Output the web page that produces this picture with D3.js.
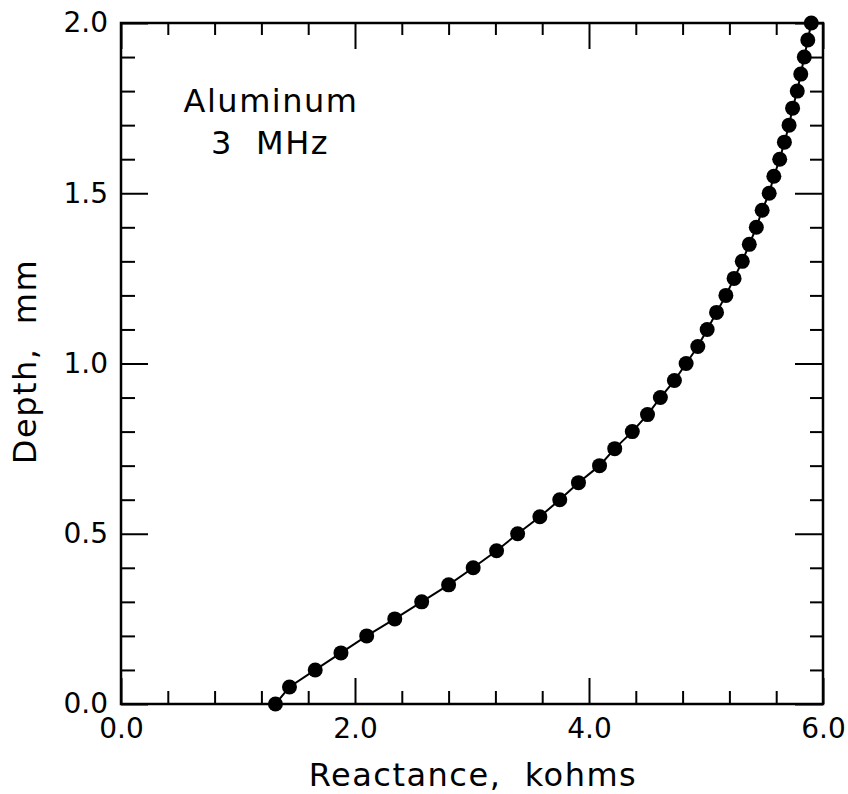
<!DOCTYPE html>
<html>
<head>
<meta charset="utf-8">
<script src="https://cdnjs.cloudflare.com/ajax/libs/d3/7.8.5/d3.min.js"></script>
<style>
  body { margin: 0; background: #fff; }
  svg { display: block; }
  text { font-family: "DejaVu Sans", sans-serif; fill: #000; }
</style>
</head>
<body>
<svg></svg>
<script>
var width = 848,
    height = 794

// depth, mm
var depth = [0.00, 0.05, 0.10, 0.15, 0.20, 0.25, 0.30, 0.35, 0.40, 0.45,
             0.50, 0.55, 0.60, 0.65, 0.70, 0.75, 0.80, 0.85, 0.90, 0.95,
             1.00, 1.05, 1.10, 1.15, 1.20, 1.25, 1.30, 1.35, 1.40, 1.45,
             1.50, 1.55, 1.60, 1.65, 1.70, 1.75, 1.80, 1.85, 1.90, 1.95, 2.00]

// reactance, kohms
var reactance = [1.32, 1.44, 1.66, 1.88, 2.10, 2.34, 2.57, 2.80, 3.01, 3.21,
                 3.39, 3.58, 3.75, 3.91, 4.09, 4.22, 4.37, 4.50, 4.61, 4.73,
                 4.83, 4.93, 5.01, 5.09, 5.17, 5.24, 5.31, 5.37, 5.43, 5.48,
                 5.54, 5.58, 5.63, 5.67, 5.71, 5.74, 5.78, 5.81, 5.84, 5.87, 5.90]

var xMajor = [0, 2, 4, 6]
var xMinor = [0.4, 0.8, 1.2, 1.6, 2.4, 2.8, 3.2, 3.6, 4.4, 4.8, 5.2, 5.6]
var yMajor = [0, 0.5, 1.0, 1.5, 2.0]
var yMinor = [0.1, 0.2, 0.3, 0.4, 0.6, 0.7, 0.8, 0.9, 1.1, 1.2, 1.3, 1.4, 1.6, 1.7, 1.8, 1.9]

var margin = {top: 23, right: 25, bottom: 90, left: 121}

var svg = d3.select("svg").attr("width", width).attr("height", height)

var x = d3.scaleLinear().domain([0, 6]).range([margin.left, width - margin.right])
var y = d3.scaleLinear().domain([0, 2]).range([height - margin.bottom, margin.top])

var data = depth.map(function(d, i) {
  return {depth: d, reactance: reactance[i]}
})

function styleAxis(g) {
  g.select(".domain").remove()
  g.selectAll("line").attr("stroke", "#000").attr("stroke-width", 2)
  g.selectAll("text").attr("font-size", 28).attr("font-family", "DejaVu Sans, sans-serif")
}

var fmt = d3.format(".1f")

// bottom
svg.append("g").attr("transform", "translate(0," + y(0) + ")")
  .call(d3.axisBottom(x).tickValues(xMajor).tickSize(-26).tickPadding(14).tickFormat(fmt))
  .call(styleAxis)
svg.append("g").attr("transform", "translate(0," + y(0) + ")")
  .call(d3.axisBottom(x).tickValues(xMinor).tickSize(-13).tickFormat(""))
  .call(styleAxis)
// top
svg.append("g").attr("transform", "translate(0," + y(2) + ")")
  .call(d3.axisTop(x).tickValues(xMajor).tickSize(-26).tickFormat(""))
  .call(styleAxis)
svg.append("g").attr("transform", "translate(0," + y(2) + ")")
  .call(d3.axisTop(x).tickValues(xMinor).tickSize(-12).tickFormat(""))
  .call(styleAxis)
// left
svg.append("g").attr("transform", "translate(" + x(0) + ",0)")
  .call(d3.axisLeft(y).tickValues(yMajor).tickSize(-27).tickPadding(13).tickFormat(fmt))
  .call(styleAxis)
svg.append("g").attr("transform", "translate(" + x(0) + ",0)")
  .call(d3.axisLeft(y).tickValues(yMinor).tickSize(-14).tickFormat(""))
  .call(styleAxis)
// right
svg.append("g").attr("transform", "translate(" + x(6) + ",0)")
  .call(d3.axisRight(y).tickValues(yMajor).tickSize(-28).tickFormat(""))
  .call(styleAxis)
svg.append("g").attr("transform", "translate(" + x(6) + ",0)")
  .call(d3.axisRight(y).tickValues(yMinor).tickSize(-13).tickFormat(""))
  .call(styleAxis)

// frame
svg.append("rect")
  .attr("x", x(0)).attr("y", y(2))
  .attr("width", x(6) - x(0)).attr("height", y(0) - y(2))
  .attr("fill", "none").attr("stroke", "#000").attr("stroke-width", 2.5)

var line = d3.line()
  .x(function(d) { return x(d.reactance) })
  .y(function(d) { return y(d.depth) })

svg.append("path").datum(data)
  .attr("d", line)
  .attr("fill", "none").attr("stroke", "#000").attr("stroke-width", 2)

svg.selectAll("circle.pt")
  .data(data)
  .enter().append("circle")
  .attr("class", "pt")
  .attr("cx", function(d) { return x(d.reactance) })
  .attr("cy", function(d) { return y(d.depth) })
  .attr("r", 7.5)
  .attr("fill", "#000")

// labels
svg.append("text")
  .attr("x", (x(0) + x(6)) / 2 + 1).attr("y", 786)
  .attr("text-anchor", "middle").attr("font-size", 32)
  .attr("letter-spacing", 1.5).style("white-space", "pre")
  .text("Reactance,  kohms")

svg.append("text")
  .attr("transform", "translate(36," + (y(1) - 2) + ") rotate(-90)")
  .attr("text-anchor", "middle").attr("font-size", 32)
  .attr("letter-spacing", 1.5).style("white-space", "pre")
  .text("Depth,  mm")

svg.append("text")
  .attr("x", 271).attr("y", 112)
  .attr("text-anchor", "middle").attr("font-size", 32)
  .attr("letter-spacing", 1.5)
  .text("Aluminum")

svg.append("text")
  .attr("x", 270).attr("y", 154)
  .attr("text-anchor", "middle").attr("font-size", 32)
  .attr("letter-spacing", 1.5).style("white-space", "pre")
  .text("3  MHz")
</script>
</body>
</html>
